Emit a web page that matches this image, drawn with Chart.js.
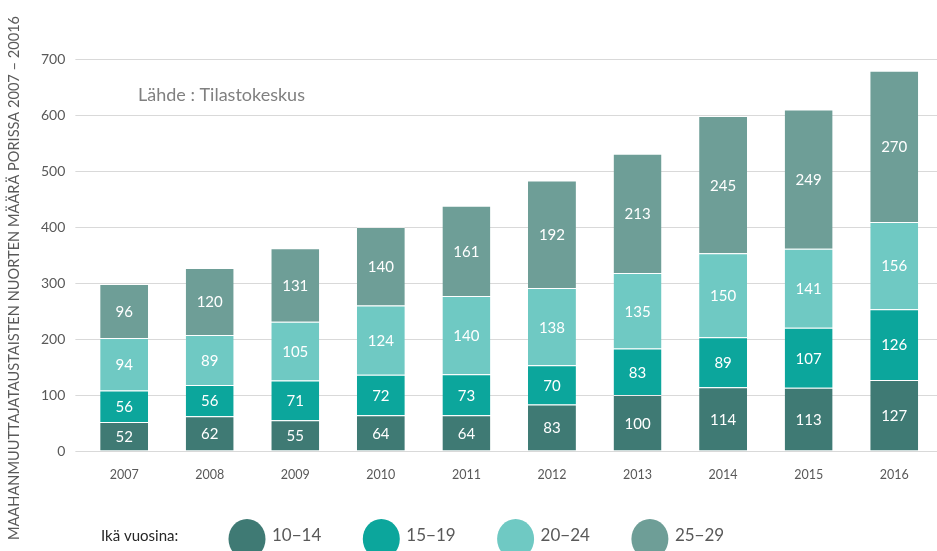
<!DOCTYPE html>
<html>
<head>
<meta charset="utf-8">
<script src="https://cdn.jsdelivr.net/npm/chart.js@4"></script>
<style>
  html, body { margin: 0; padding: 0; background: #fff; }
  #wrap { width: 937px; height: 551px; position: relative; }
</style>
</head>
<body>
<div id="wrap"><canvas id="porChart"></canvas></div>
<script>
const years = ['2007', '2008', '2009', '2010', '2011', '2012', '2013', '2014', '2015', '2016'];
const age10_14 = [52, 62, 55, 64, 64, 83, 100, 114, 113, 127];
const age15_19 = [56, 56, 71, 72, 73, 70, 83, 89, 107, 126];
const age20_24 = [94, 89, 105, 124, 140, 138, 135, 150, 141, 156];
const age25_29 = [96, 120, 131, 140, 161, 192, 213, 245, 249, 270];
const groupLabels = ['10−14', '15−19', '20−24', '25−29'];
const yTicks = [0, 100, 200, 300, 400, 500, 600, 700];

const colors = ['#3f7a74', '#0ca69c', '#6fc9c3', '#6e9e97'];
const fontMain = 'Lato, "Open Sans", sans-serif';
const yTitle = 'MAAHANMUUTTAJATAUSTAISTEN NUORTEN MÄÄRÄ PORISSA 2007 – 20016';

// white numbers in the middle of each segment
const segmentLabels = {
    id: 'segmentLabels',
    afterDatasetsDraw(chart) {
        const c = chart.ctx;
        c.save();
        c.fillStyle = '#ffffff';
        c.font = '15px ' + fontMain;
        c.textAlign = 'center';
        c.textBaseline = 'middle';
        chart.data.datasets.forEach((ds, i) => {
            chart.getDatasetMeta(i).data.forEach((bar, j) => {
                const p = bar.getProps(['x', 'y', 'base'], true);
                c.fillText(ds.data[j], p.x, (p.y + p.base) / 2 + 1);
            });
        });
        c.restore();
    }
};

// source note, rotated axis title and the bottom legend
const extras = {
    id: 'extras',
    afterDraw(chart) {
        const c = chart.ctx;
        c.save();
        c.fillStyle = '#808080';
        c.font = '18px ' + fontMain;
        c.textBaseline = 'middle';
        c.fillText('Lähde : Tilastokeskus', 138, 95);

        c.translate(14, 278);
        c.rotate(-Math.PI / 2);
        c.fillStyle = '#595959';
        c.font = '14.6px ' + fontMain;
        c.textAlign = 'center';
        c.fillText(yTitle, 0, 0);
        c.restore();

        c.save();
        c.textBaseline = 'middle';
        c.font = '15px ' + fontMain;
        c.fillStyle = '#262626';
        c.fillText('Ikä vuosina:', 101, 536);
        c.font = '17px ' + fontMain;
        chart.data.datasets.forEach((ds, i) => {
            const cx = 247 + i * 134.3;
            c.beginPath();
            c.ellipse(cx, 539, 18.5, 20, 0, 0, Math.PI * 2);
            c.fillStyle = ds.backgroundColor;
            c.fill();
            c.fillStyle = '#595959';
            c.fillText(ds.label, cx + 25, 536);
        });
        c.restore();
    }
};

const series = [age10_14, age15_19, age20_24, age25_29];

new Chart(document.getElementById('porChart'), {
    type: 'bar',
    data: {
        labels: years,
        datasets: series.map((vals, i) => ({
            label: groupLabels[i],
            data: vals,
            backgroundColor: colors[i],
            borderColor: 'rgba(255,255,255,0.45)',
            borderWidth: { top: 1, bottom: 0, left: 0, right: 0 },
            borderSkipped: false,
            barPercentage: 0.56,
            categoryPercentage: 1
        }))
    },
    options: {
        responsive: true,
        maintainAspectRatio: false,
        animation: false,
        layout: { padding: { top: 59, right: -4, bottom: 61, left: 31 } },
        plugins: {
            legend: { display: false },
            tooltip: { enabled: false }
        },
        scales: {
            x: {
                stacked: true,
                grid: { display: false },
                border: { display: false },
                ticks: { color: '#595959', font: { size: 12.5, family: fontMain }, padding: 8 }
            },
            y: {
                stacked: true,
                min: 0,
                max: 700,
                afterBuildTicks(axis) { axis.ticks = yTicks.map(v => ({ value: v })); },
                grid: { color: '#d9d9d9', tickLength: 6, drawTicks: true },
                border: { display: false },
                ticks: { color: '#595959', font: { size: 14, family: fontMain }, padding: 10 }
            }
        }
    },
    plugins: [segmentLabels, extras]
});
</script>
</body>
</html>
